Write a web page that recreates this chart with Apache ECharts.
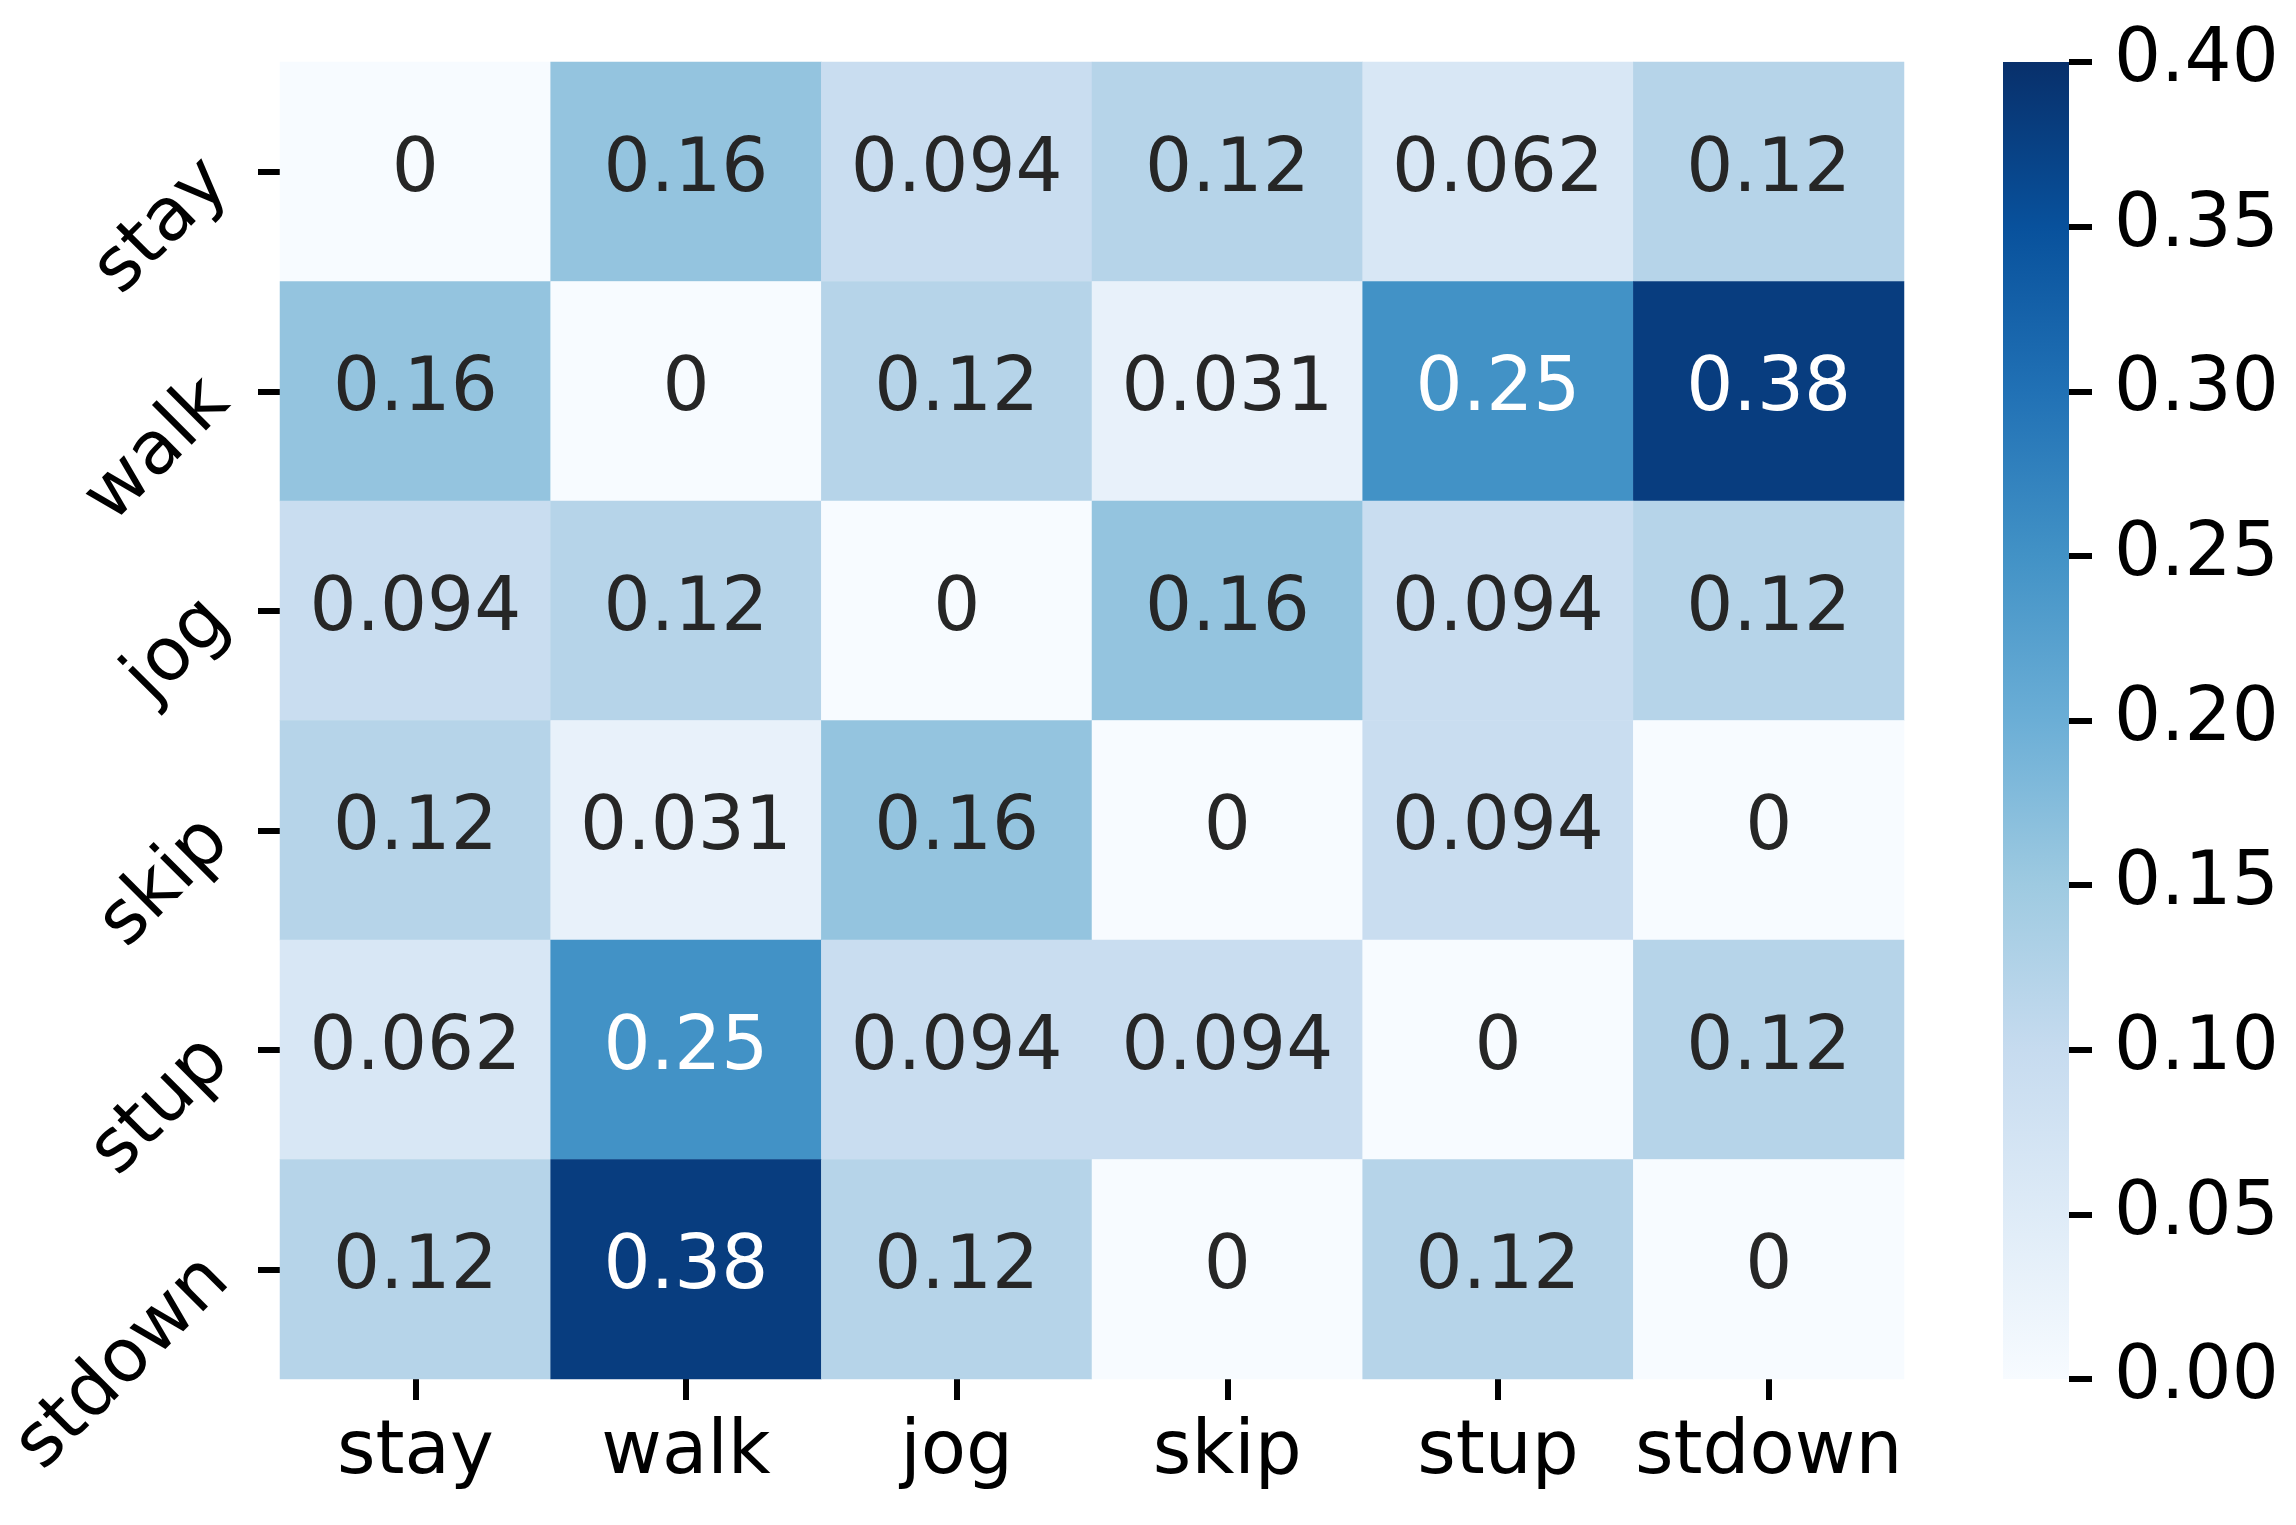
<!DOCTYPE html>
<html>
<head>
<meta charset="utf-8">
<script src="https://cdn.jsdelivr.net/npm/echarts@6/dist/echarts.min.js"></script>
<style>
html,body{margin:0;padding:0;background:#fff;}
#main{width:2296px;height:1525px;}
</style>
</head>
<body>
<div id="main"></div>
<script>
const categories = ['stay', 'walk', 'jog', 'skip', 'stup', 'stdown'];
const rowStay   = [0, 0.16, 0.094, 0.12, 0.062, 0.12];
const rowWalk   = [0.16, 0, 0.12, 0.031, 0.25, 0.38];
const rowJog    = [0.094, 0.12, 0, 0.16, 0.094, 0.12];
const rowSkip   = [0.12, 0.031, 0.16, 0, 0.094, 0];
const rowStup   = [0.062, 0.25, 0.094, 0.094, 0, 0.12];
const rowStdown = [0.12, 0.38, 0.12, 0, 0.12, 0];
const rows = [rowStay, rowWalk, rowJog, rowSkip, rowStup, rowStdown];
const colorbarMax = 0.40;
const colorbarTicks = [0, 0.05, 0.10, 0.15, 0.20, 0.25, 0.30, 0.35, 0.40];

const blues = ['#f7fbff','#deebf7','#c6dbef','#9ecae1','#6baed6','#4292c6','#2171b5','#08519c','#08306b'];
const FONT = 'DejaVu Sans';
const FS = 74;

const heatData = [];
rows.forEach((row, r) => {
  row.forEach((v, c) => {
    heatData.push({
      value: [c, r, v],
      label: { color: v >= 0.2 ? '#ffffff' : '#262626' }
    });
  });
});

const chart = echarts.init(document.getElementById('main'), null, {renderer: 'canvas'});
chart.setOption({
  animation: false,
  backgroundColor: '#ffffff',
  grid: [
    { left: 280, right: 392, top: 62, bottom: 146 },
    { left: 2003, width: 66, top: 62, bottom: 146 }
  ],
  xAxis: [
    {
      type: 'category', gridIndex: 0, data: categories, position: 'bottom',
      axisLine: { show: false },
      axisTick: { show: true, alignWithLabel: true, interval: 0, length: 21, lineStyle: { color: '#000', width: 6 } },
      axisLabel: { fontFamily: FONT, fontSize: FS, color: '#000', margin: 38, interval: 0 },
      splitLine: { show: false }
    },
    {
      type: 'category', gridIndex: 1, data: ['cb'],
      axisLine: { show: false }, axisTick: { show: false }, axisLabel: { show: false }
    }
  ],
  yAxis: [
    {
      type: 'category', gridIndex: 0, data: categories, inverse: true,
      axisLine: { show: false },
      axisTick: { show: true, alignWithLabel: true, interval: 0, length: 22, lineStyle: { color: '#000', width: 6 } },
      axisLabel: { fontFamily: FONT, fontSize: FS, color: '#000', rotate: 45, margin: 62, interval: 0 },
      splitLine: { show: false }
    },
    {
      type: 'value', gridIndex: 1, position: 'right', min: 0, max: colorbarMax, interval: 0.05,
      axisLine: { show: false },
      axisTick: { show: true, length: 23, lineStyle: { color: '#000', width: 6 } },
      axisLabel: { fontFamily: FONT, fontSize: FS, color: '#000', margin: 45,
        formatter: v => colorbarTicks.some(t => Math.abs(t - v) < 1e-9) ? v.toFixed(2) : '' },
      splitLine: { show: false }
    }
  ],
  visualMap: {
    show: false, type: 'continuous', min: 0, max: colorbarMax, seriesIndex: 0, dimension: 2,
    inRange: { color: blues }
  },
  series: [
    {
      type: 'heatmap', xAxisIndex: 0, yAxisIndex: 0, data: heatData,
      label: { show: true, fontFamily: FONT, fontSize: FS, formatter: p => String(p.value[2]) },
      itemStyle: { borderWidth: 0 },
      emphasis: { disabled: true }
    },
    {
      type: 'bar', xAxisIndex: 1, yAxisIndex: 1, data: [colorbarMax],
      barWidth: '100%', silent: true,
      itemStyle: {
        color: new echarts.graphic.LinearGradient(0, 1, 0, 0,
          blues.map((c, i) => ({ offset: i / (blues.length - 1), color: c })))
      }
    }
  ]
});
</script>
</body>
</html>
